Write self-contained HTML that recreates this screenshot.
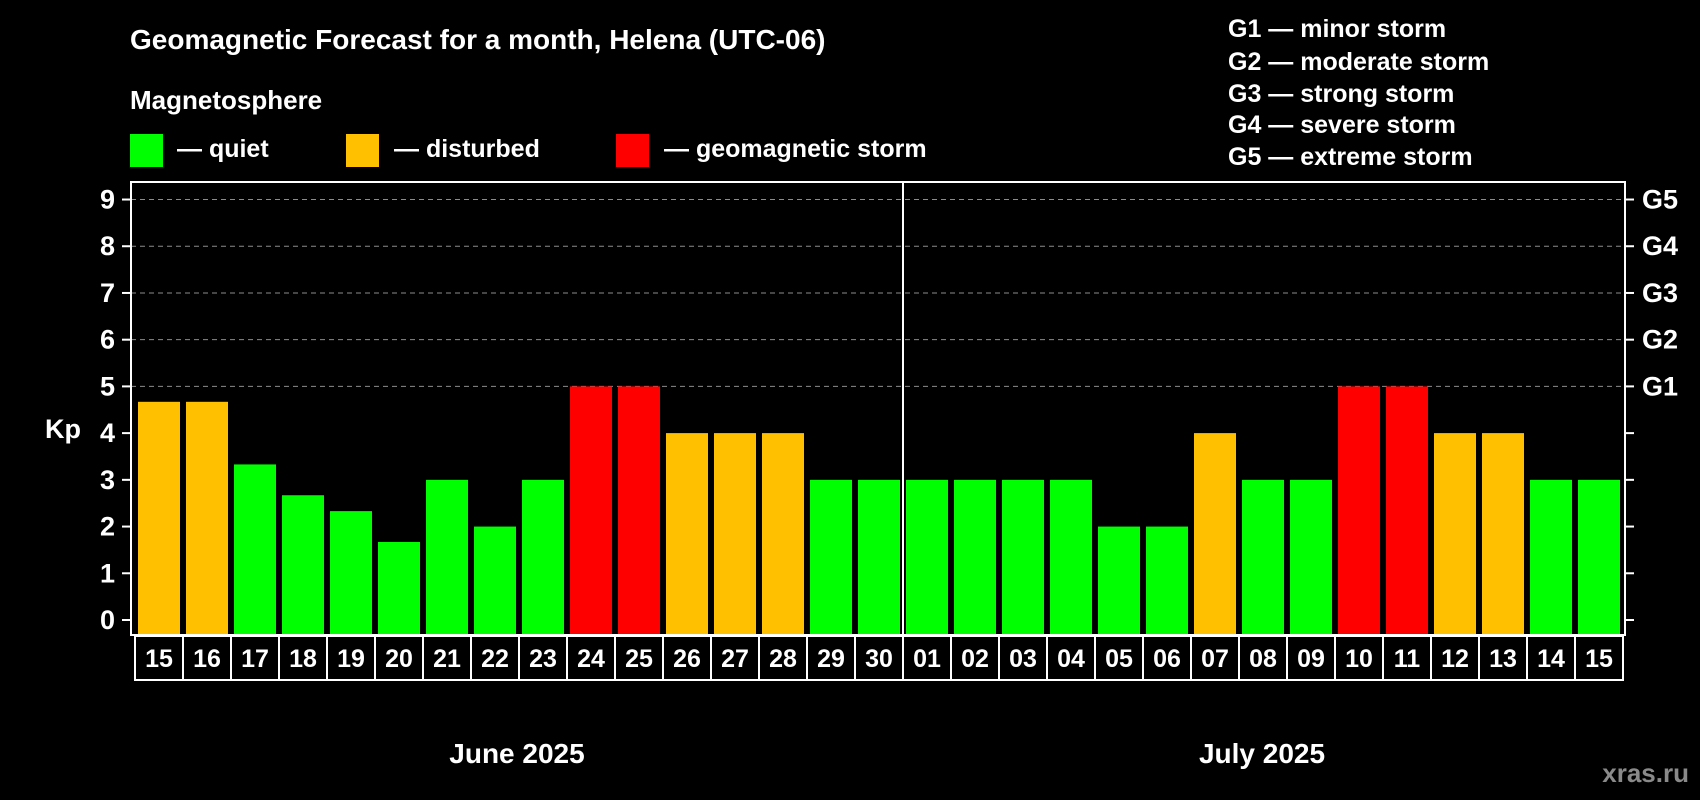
<!DOCTYPE html>
<html><head><meta charset="utf-8"><style>
html,body{margin:0;padding:0;background:#000;}
svg{display:block;font-family:"Liberation Sans",Arial,sans-serif;font-weight:bold;}
</style></head><body>
<svg id="chart" width="1700" height="800" viewBox="0 0 1700 800" xmlns="http://www.w3.org/2000/svg">
<rect x="0" y="0" width="1700" height="800" fill="#000"/>
<text x="130" y="49" fill="#fff" font-size="28">Geomagnetic Forecast for a month, Helena (UTC-06)</text>
<text x="130" y="109" fill="#fff" font-size="26">Magnetosphere</text>
<rect x="130" y="134" width="33" height="33" fill="#00ff00"/>
<text x="177" y="157" fill="#fff" font-size="25">— quiet</text>
<rect x="346" y="134" width="33" height="33" fill="#ffc000"/>
<text x="394" y="157" fill="#fff" font-size="25">— disturbed</text>
<rect x="616" y="134" width="33" height="33" fill="#ff0000"/>
<text x="664" y="157" fill="#fff" font-size="25">— geomagnetic storm</text>
<g fill="#fff" font-size="25">
<text x="1228" y="37">G1 — minor storm</text>
<text x="1228" y="70">G2 — moderate storm</text>
<text x="1228" y="102">G3 — strong storm</text>
<text x="1228" y="133">G4 — severe storm</text>
<text x="1228" y="165">G5 — extreme storm</text>
</g>
<g id="grid"></g>
<g id="bars"></g>
<g id="axes"></g>
<text x="63" y="438" fill="#fff" font-size="27" text-anchor="middle">Kp</text>
<text x="517" y="763" fill="#fff" font-size="28" text-anchor="middle">June 2025</text>
<text x="1262" y="763" fill="#fff" font-size="28" text-anchor="middle">July 2025</text>
<text x="1689" y="782" fill="#8a8a8a" font-size="26" text-anchor="end">xras.ru</text>
</svg>
<script>
const days = ["15","16","17","18","19","20","21","22","23","24","25","26","27","28","29","30","01","02","03","04","05","06","07","08","09","10","11","12","13","14","15"];
const kpValues = [4.67,4.67,3.33,2.67,2.33,1.67,3,2,3,5,5,4,4,4,3,3,3,3,3,3,2,2,4,3,3,5,5,4,4,3,3];
const yTicks = [0,1,2,3,4,5,6,7,8,9];
const gLabels = ["","","","","","G1","G2","G3","G4","G5"];
const monthSplitIndex = 16;

const NS = "http://www.w3.org/2000/svg";
const plotLeft = 131, plotRight = 1625, plotTop = 182, plotBottom = 635;
const slotW = 48, firstSlot = 135;
function yScale(v){ return 620 - v * 46.72; }
function xSlot(i){ return firstSlot + i * slotW; }
function colorFor(v){ return v >= 5 ? "#ff0000" : (v >= 3.67 ? "#ffc000" : "#00ff00"); }
function mk(tag, attrs, parent){ const e = document.createElementNS(NS, tag); for (const k in attrs) e.setAttribute(k, attrs[k]); parent.appendChild(e); return e; }

const gridG = document.getElementById("grid");
const barsG = document.getElementById("bars");
const axesG = document.getElementById("axes");

yTicks.forEach(t => {
  if (t >= 5) {
    const g = mk("line", {x1: plotLeft, x2: plotRight, y1: yScale(t), y2: yScale(t), stroke: "#8c8c8c", "stroke-width": 1, "stroke-dasharray": "5,4"}, gridG);
    
    
  }
});

kpValues.forEach((v, i) => {
  const r = mk("rect", {x: xSlot(i) + 3, y: yScale(v), width: 42, height: plotBottom - yScale(v), fill: colorFor(v)}, barsG);
  
  
});

const frame = mk("rect", {x: plotLeft, y: plotTop, width: plotRight - plotLeft, height: plotBottom - plotTop, fill: "none", stroke: "#fff", "stroke-width": 2}, axesG);



yTicks.forEach((t, k) => {
  const y = yScale(t);
  const tl = mk("line", {x1: 122, x2: plotLeft, y1: y, y2: y, stroke: "#fff", "stroke-width": 2}, axesG);
  
  
  const lb = mk("text", {x: 115, y: y + 9, fill: "#fff", "font-size": 27, "text-anchor": "end"}, axesG);
  lb.textContent = String(t);
  
  
  const tr = mk("line", {x1: plotRight, x2: 1634, y1: y, y2: y, stroke: "#fff", "stroke-width": 2}, axesG);
  
  
  if (gLabels[k]) {
    const gl = mk("text", {x: 1642, y: y + 9, fill: "#fff", "font-size": 27}, axesG);
    gl.textContent = gLabels[k];
    
    
  }
});

days.forEach((d, i) => {
  const x = xSlot(i);
  const c = mk("rect", {x: x, y: plotBottom + 1, width: slotW, height: 680 - plotBottom - 1, fill: "#000", stroke: "#fff", "stroke-width": 2}, axesG);
  
  
  const t = mk("text", {x: x + slotW / 2, y: 667, fill: "#fff", "font-size": 25, "text-anchor": "middle"}, axesG);
  t.textContent = d;
  
  
});

const divX = xSlot(monthSplitIndex);
const dv = mk("line", {x1: divX, x2: divX, y1: plotTop, y2: 680, stroke: "#fff", "stroke-width": 2}, axesG);


</script>
</body></html>
